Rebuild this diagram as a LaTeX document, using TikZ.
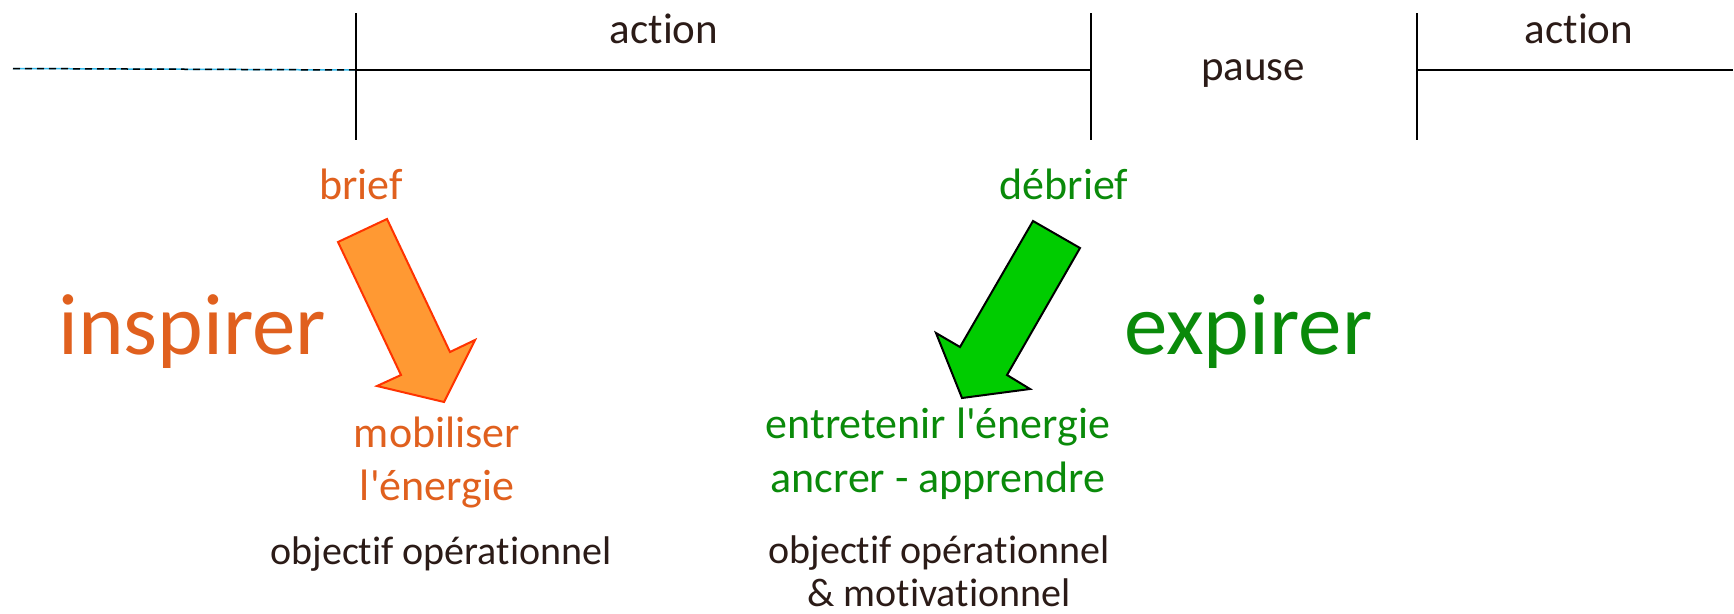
\documentclass[tikz,border=0pt]{standalone}
\usepackage{fontspec}
\setmainfont{Carlito}[Ligatures={TeXOff,CommonOff}]
\definecolor{orangetxt}{HTML}{E0601E}
\definecolor{greentxt}{HTML}{0A8A0A}
\definecolor{darktxt}{HTML}{2B1B17}
\definecolor{arroworange}{HTML}{FF9933}
\definecolor{arrowred}{HTML}{FF3300}
\definecolor{arrowgreen}{HTML}{00CC00}
\definecolor{dashcyan}{HTML}{33BBEE}
\begin{document}
\begin{tikzpicture}[x=1pt,y=-1pt,
  txt/.style={font=\fontsize{40}{48}\selectfont, inner sep=0pt, anchor=base},
  toptxt/.style={font=\fontsize{43}{50}\selectfont, inner sep=0pt, anchor=base},
  coltxt/.style={font=\fontsize{44}{52}\selectfont, inner sep=0pt, anchor=base},
  big/.style={font=\fontsize{87}{100}\selectfont, inner sep=0pt, anchor=base west},
  tick/.style={draw=black, line width=2pt},
  axis/.style={draw=black, line width=2.5pt},
  orangearrow/.style={fill=arroworange, draw=arrowred, line width=2pt, line join=miter},
  greenarrow/.style={fill=arrowgreen, draw=black, line width=2pt, line join=miter}]
\useasboundingbox (0,0) rectangle (1734,613);

% timeline coordinates
\coordinate (d0) at (13,68.5);
\coordinate (h1) at (356,70);
\coordinate (v1t) at (356,13);
\coordinate (v1b) at (356,140);
\coordinate (h2) at (1091,70);
\coordinate (v2t) at (1091,13);
\coordinate (v2b) at (1091,140);
\coordinate (h3) at (1417,70);
\coordinate (v3t) at (1417,13);
\coordinate (v3b) at (1417,140);
\coordinate (hend) at (1733,70);

% dashed lead-in
\draw[dashcyan, line width=1.5pt] (d0) -- (h1);
\draw[black, line width=1.5pt, dash pattern=on 7pt off 5pt] (d0) -- (h1);
% axis
\draw[axis] (h1) -- (h2);
\draw[axis] (h3) -- (hend);
\draw[tick] (v1t) -- (v1b);
\draw[tick] (v2t) -- (v2b);
\draw[tick] (v3t) -- (v3b);

% top labels
\node[toptxt, text=darktxt] (action1) at (664,43) {action};
\node[toptxt, text=darktxt] (pause) at (1253,80) {pause};
\node[toptxt, text=darktxt] (action2) at (1579,43) {action};

% brief / debrief
\node[coltxt, text=orangetxt] (brief) at (361,199) {brief};
\node[coltxt, text=greentxt] (debrief) at (1064,199) {débrief};

% big words
\node[big, text=orangetxt] (inspirer) at (58,354) {inspirer};
\node[big, text=greentxt] (expirer) at (1124,354) {expirer};

% arrows
\draw[orangearrow] (338,242) -- (387,219) -- (450,352) -- (475,340) -- (444,402) -- (377,386) -- (401,375) -- cycle;
\draw[greenarrow] (1033,221) -- (1080,248) -- (1007,375) -- (1030,389) -- (962,398) -- (936,333) -- (960,347) -- cycle;

% lower texts left
\node[coltxt, text=orangetxt] (mob1) at (437,447) {mobiliser};
\node[coltxt, text=orangetxt] (mob2) at (437,500) {l'énergie};
\node[txt, text=darktxt] (obj1) at (441,564) {objectif opérationnel};

% lower texts right
\node[coltxt, text=greentxt] (ent1) at (938,438) {entretenir l'énergie};
\node[coltxt, text=greentxt] (ent2) at (938,492) {ancrer - apprendre};
\node[txt, text=darktxt] (obj2a) at (939,563) {objectif opérationnel};
\node[txt, text=darktxt] (obj2b) at (939,606) {\& motivationnel};
\end{tikzpicture}
\end{document}
